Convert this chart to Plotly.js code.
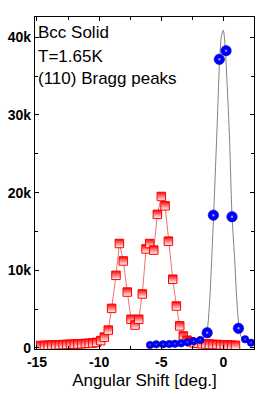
<!DOCTYPE html>
<html>
<head>
<meta charset="utf-8">
<script src="https://cdn.plot.ly/plotly-3.0.1.min.js"></script>
<style>html,body{margin:0;padding:0;background:#fff;}#chart{width:277px;height:394px;}</style>
</head>
<body>
<div id="chart"></div>
<script>
// Red squares: Bragg peaks (angular shift in deg, intensity in counts)
const redX = [-14.7,-14.4,-14.1,-13.8,-13.5,-13.2,-12.9,-12.6,-12.3,-12.0,-11.7,-11.4,-11.1,-10.8,-10.5,-10.2,
  -9.87,-9.58,-9.26,-8.99,-8.64,-8.37,-8.05,-7.73,-7.43,-7.11,-6.81,-6.52,-6.22,-5.93,-5.6,-5.31,-4.99,-4.69,-4.42,
  -4.07,-3.78,-3.51,-3.22,-2.92,-2.62,-2.32,-2.02,-1.72,-1.42,-1.12,-0.82,-0.52,-0.22,0.08,0.38,0.68,0.98];
const redY = [320,340,350,380,400,410,440,460,480,500,530,550,580,610,650,720,
  950,1400,2300,5100,9350,13450,11200,7200,3700,2950,3700,6950,12750,13450,12600,17200,19500,18300,13750,
  8850,5400,2850,1550,1000,800,650,600,550,520,500,460,450,420,400,380,360,340];

// Blue spheres
const blueX = [-5.9,-5.4,-4.85,-4.35,-3.9,-3.4,-2.9,-2.4,-1.85,-1.3,-0.8,-0.32,0.22,0.7,1.22,1.75,2.23];
const blueY = [390,470,470,510,550,600,730,860,1030,1970,17100,37150,38270,16900,2530,1120,680];

// Gray fitted curve
const fitX = [-6,-5,-4,-3,-2.5,-2,-1.75,-1.5,-1.3,-1.1,-0.9,-0.7,-0.5,-0.3,-0.15,0,0.15,0.3,0.5,0.7,0.9,1.1,1.3,1.5,1.75,2,2.5];
const fitY = [400,450,550,700,800,950,1100,1400,2300,6000,12700,20300,28500,36900,40200,40900,38700,34200,27000,17000,11800,5800,2200,1200,800,600,500];

// Axis ticks
const yTickVals = [0,10000,20000,30000,40000];
const yTickText = ['0','10k','20k','30k','40k'];
const xTickVals = [-15,-10,-5,0];
const xTickText = ['-15','-10','-5','0'];

const labels = ['Bcc Solid','T=1.65K','(110) Bragg peaks'];

const FONT = 'Liberation Sans, Arial, sans-serif';

const traces = [
  {
    x: redX, y: redY, type: 'scatter', mode: 'lines+markers',
    line: {color: '#f07070', width: 1},
    marker: {symbol: 'square', size: 8.5, color: '#ff0000',
      gradient: {type: 'vertical', color: '#ffffff'},
      line: {color: '#ff0000', width: 1}},
    hoverinfo: 'skip'
  },
  {
    x: fitX, y: fitY, type: 'scatter', mode: 'lines',
    line: {color: '#808080', width: 1, shape: 'spline', smoothing: 0.7},
    hoverinfo: 'skip'
  },
  {
    x: blueX, y: blueY, type: 'scatter', mode: 'markers',
    marker: {symbol: 'circle', size: blueY.map(v => v > 1500 ? 10.5 : 7.5), color: '#0000ff', opacity: 1,
      line: {color: '#000090', width: 0.5}},
    hoverinfo: 'skip'
  },
  {
    x: blueX, y: blueY, type: 'scatter', mode: 'markers',
    marker: {symbol: 'circle', size: blueY.map(v => v > 1500 ? 2.5 : 1.5), color: '#7f8fff', opacity: 1,
      line: {width: 0}},
    hoverinfo: 'skip'
  }
];

const axisCommon = {
  showline: true, linecolor: '#000', linewidth: 1.2, mirror: 'ticks',
  ticks: 'inside', ticklen: 4, tickwidth: 1, tickcolor: '#000',
  showgrid: false, zeroline: false,
  tickfont: {family: FONT, size: 14, color: '#000', weight: 'bold'}
};

const layout = {
  width: 277, height: 394,
  margin: {l: 35, r: 23, t: 17, b: 45},
  paper_bgcolor: '#fff', plot_bgcolor: '#fff',
  showlegend: false,
  font: {family: FONT, color: '#000'},
  xaxis: Object.assign({}, axisCommon, {
    range: [-15.16, 2.47],
    tickmode: 'array', tickvals: xTickVals, ticktext: xTickText,
    minor: {dtick: 2.5, ticks: 'inside', ticklen: 3, tickcolor: '#000', showgrid: false},
    title: {text: 'Angular Shift [deg.]', font: {family: FONT, size: 17, color: '#000'}, standoff: 5}
  }),
  yaxis: Object.assign({}, axisCommon, {
    range: [-130, 42600],
    tickmode: 'array', tickvals: yTickVals, ticktext: yTickText,
    minor: {dtick: 5000, ticks: 'inside', ticklen: 3, tickcolor: '#000', showgrid: false}
  }),
  annotations: labels.map((t, i) => ({
    text: t, xref: 'paper', yref: 'paper', x: 0.005, y: [0.952, 0.882, 0.815][i],
    xanchor: 'left', yanchor: 'middle', showarrow: false,
    font: {family: FONT, size: 17, color: '#000'}
  }))
};

Plotly.newPlot('chart', traces, layout, {staticPlot: true, displayModeBar: false});
</script>
</body>
</html>
